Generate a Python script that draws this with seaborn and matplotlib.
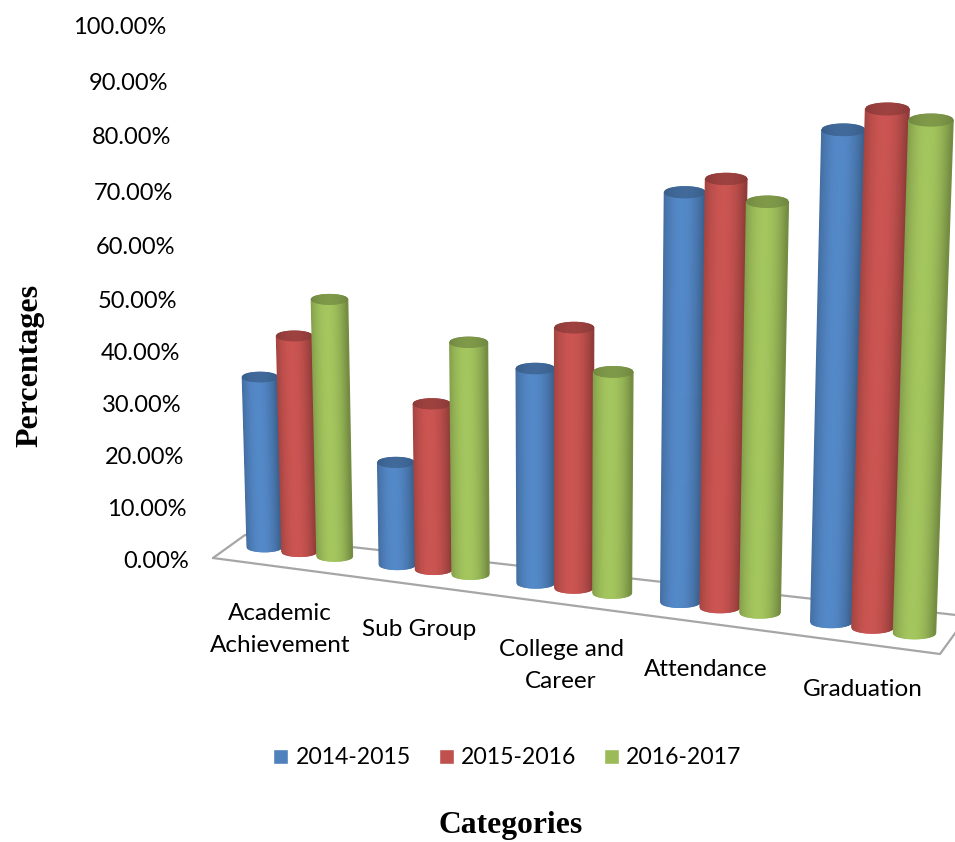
import numpy as np
import pandas as pd
import matplotlib
matplotlib.use("Agg")
import matplotlib.pyplot as plt
from matplotlib.collections import PolyCollection
import seaborn as sns

categories = ["Academic\nAchievement", "Sub Group", "College and\nCareer", "Attendance", "Graduation"]
years = ["2014-2015", "2015-2016", "2016-2017"]
values_2014 = [33.0, 19.6, 39.9, 73.5, 85.9]
values_2015 = [41.5, 31.4, 48.0, 76.3, 89.8]
values_2016 = [49.0, 43.5, 40.7, 72.9, 88.4]
tick_labels = ["0.00%", "10.00%", "20.00%", "30.00%", "40.00%", "50.00%",
               "60.00%", "70.00%", "80.00%", "90.00%", "100.00%"]
colors = ["#4F81BD", "#C0504D", "#9BBB59"]

W, H = 955, 842
df = pd.DataFrame({
    "category": categories * 3,
    "year": np.repeat(years, len(categories)),
    "value": values_2014 + values_2015 + values_2016,
})

sns.set_theme(style="white")
plt.rcParams["font.family"] = ["Lato", "DejaVu Sans"]
plt.rcParams["text.color"] = "black"
plt.rcParams["legend.labelcolor"] = "black"
fig = plt.figure(figsize=(W / 100, H / 100), dpi=100, facecolor="white")
ax = fig.add_axes([0, 0, 1, 1])
sns.barplot(data=df, x="category", y="value", hue="year", hue_order=years,
            palette=colors, saturation=1, width=0.8, gap=0, ax=ax, legend=True)
ax.axis("off")

# pixel canvas for the perspective rendering
cv = fig.add_axes([0, 0, 1, 1], facecolor="none")
cv.set_xlim(0, W)
cv.set_ylim(H, 0)
cv.axis("off")

# perspective mapping (category position, value) -> image pixels
anchors = [((-0.2667, 0.0), (264.5, 547.0)), ((-0.2667, 33.0), (260.0, 377.0)),
           ((4.2667, 0.0), (914.5, 633.0)), ((4.2667, 88.4), (931.0, 120.0))]
A, b = [], []
for (u, v), (x, y) in anchors:
    A.append([u, v, 1, 0, 0, 0, -u * x, -v * x]); b.append(x)
    A.append([0, 0, 0, u, v, 1, -u * y, -v * y]); b.append(y)
M = np.append(np.linalg.solve(np.array(A), np.array(b)), 1.0).reshape(3, 3)


def proj(u, v):
    p = M @ np.array([u, v, 1.0])
    return p[0] / p[2], p[1] / p[2]


# floor frame
floor = [(213, 558), (245, 535), (956, 615)]
cv.plot(*zip(*floor), color="#a6a6a6", lw=1.6, zorder=1)
cv.plot([213, 940, 956], [558, 654, 632], color="#a6a6a6", lw=1.6, zorder=1)


def shade(color, f):
    c = np.array(matplotlib.colors.to_rgb(color))
    return tuple(np.clip(c * f, 0, 1))


def cylinder(bar, color, z):
    u0, du, val = bar.get_x(), bar.get_width(), bar.get_height()
    uc = u0 + du / 2
    xb, yb = proj(uc, 0)
    xt, yt = proj(uc, val)
    hw_b = (proj(u0 + du, 0)[0] - proj(u0, 0)[0]) / 2
    hw_t = (proj(u0 + du, val)[0] - proj(u0, val)[0]) / 2
    n = 40
    ts = np.linspace(-1, 1, n + 1)
    arc = np.sqrt(np.clip(1 - ts ** 2, 0, 1))
    eb, et = hw_b * 0.27, hw_t * 0.27
    polys, cols, cap, capc = [], [], [], []
    for i in range(n):
        t0, t1 = ts[i], ts[i + 1]
        tm = (t0 + t1) / 2
        f = 0.74 + 0.32 * (1 - ((tm + 0.1) / 1.1) ** 2)
        polys.append([(xb + t0 * hw_b, yb + eb * arc[i]), (xb + t1 * hw_b, yb + eb * arc[i + 1]),
                      (xt + t1 * hw_t, yt + et * arc[i + 1]), (xt + t0 * hw_t, yt + et * arc[i])])
        cols.append(shade(color, f))
        cap.append([(xt + t0 * hw_t, yt + et * arc[i]), (xt + t1 * hw_t, yt + et * arc[i + 1]),
                    (xt + t1 * hw_t, yt - et * arc[i + 1]), (xt + t0 * hw_t, yt - et * arc[i])])
        capc.append(shade(color, 0.72 + 0.10 * (1 - tm ** 2)))
    cv.add_collection(PolyCollection(polys, facecolors=cols, edgecolors=cols, linewidths=1.0, zorder=z))
    cv.add_collection(PolyCollection(cap, facecolors=capc, edgecolors=capc, linewidths=0.8, zorder=z))


for i in range(len(categories)):
    for j, cont in enumerate(ax.containers):
        bar = cont[i]
        bar.set_visible(False)
        cylinder(bar, colors[j], 2 + i * 3 + j)

# value labels, following the slanted perspective wall
tick_y = [560, 508, 457, 405, 353, 300, 247, 192, 137, 82, 27]
tick_x = [189, 187, 184.5, 182, 180, 177.5, 175.5, 173, 171, 168.5, 166]
for x, y, s in zip(tick_x, tick_y, tick_labels):
    cv.text(x, y + 1, s, ha="right", va="center", fontsize=17, color="black")

# category labels
cat_xy = [(280, 629.5), (419, 629), (561, 665.5), (706, 669), (863, 690)]
for (x, y), s in zip(cat_xy, categories):
    cv.text(x, y, s, ha="center", va="center", fontsize=17.5, color="black",
            linespacing=1.6, multialignment="center")

cv.text(511, 825, "Categories", ha="center", va="center", fontsize=22.8, fontweight="bold",
        family="Liberation Serif", color="black")
cv.text(30, 365, "Percentages", ha="center", va="center", rotation=90, fontsize=23,
        fontweight="bold", family="Liberation Serif", color="black")

sns.move_legend(ax, "center", bbox_to_anchor=(507.5 / W, 1 - 758 / H), ncol=3, frameon=False,
                title=None, fontsize=16.6, handlelength=0.65, handleheight=0.65,
                handletextpad=0.32, columnspacing=1.2, borderpad=0, labelspacing=0,
                labelcolor="black")

fig.savefig("out.png", dpi=100, facecolor="white")
